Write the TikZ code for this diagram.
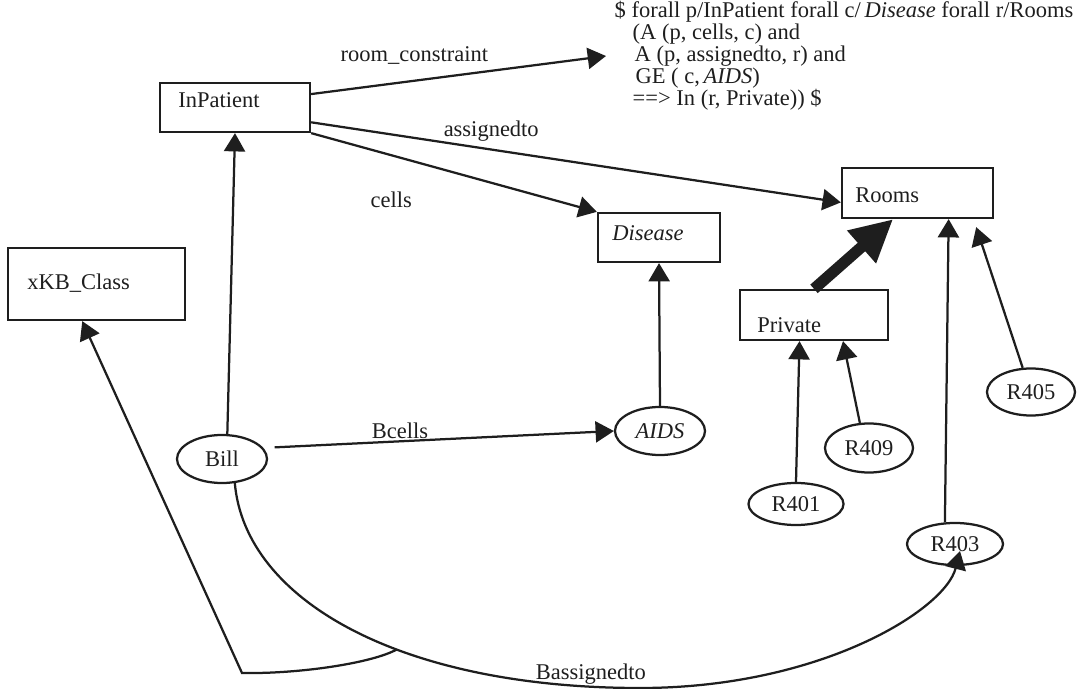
\documentclass[tikz,border=0pt]{standalone}
\usepackage{fontspec}
\setmainfont{Liberation Serif}
\usepackage{tikz}
\usetikzlibrary{arrows.meta,shapes.geometric}
\definecolor{scanInk}{HTML}{1E1E1E}
\newcommand{\handword}[1]{\textit{#1}}
\tikzset{
  classbox/.style={rectangle, draw=scanInk, line width=1.6pt, inner sep=0pt},
  classname/.style={anchor=west, inner sep=0pt, text=scanInk},
  instnode/.style={ellipse, draw=scanInk, line width=1.6pt, inner sep=0pt, text=scanInk},
  linkarrow/.style={-{Triangle[length=13pt,width=15pt]}, line width=1.6pt, draw=scanInk},
  isaarrow/.style={-{Triangle[length=30pt,width=29pt]}, line width=8pt, draw=scanInk},
  linklabel/.style={inner sep=0pt, text=scanInk},
}

\begin{document}
\begin{tikzpicture}[x=0.025cm,y=-0.025cm,font=\fontsize{16}{14.2}\selectfont]
  \useasboundingbox (0,0) rectangle (1081,689);

  % --- classes ---
  \node[classbox, minimum width=3.75cm, minimum height=1.225cm] (inpat) at (235,107.5) {};
  \node[classbox, minimum width=3.05cm, minimum height=1.225cm] (disease) at (659,237.5) {};
  \node[classbox, minimum width=3.775cm, minimum height=1.25cm] (rooms) at (917.5,193) {};
  \node[classbox, minimum width=4.425cm, minimum height=1.8cm] (xkb) at (96.5,284) {};
  \node[classbox, minimum width=3.7cm, minimum height=1.25cm] (private) at (814,315) {};

  \node[classname] (inpatname) at (178,100) {InPatient};
  \node[classname] (diseasename) at (612,233) {\handword{Disease}};
  \node[classname] (roomsname) at (855,195) {Rooms};
  \node[classname] (xkbname) at (27,283) {xKB\_Class};
  \node[classname] (privatename) at (757,325) {Private};

  % --- instances ---
  \node[instnode, minimum width=2.25cm, minimum height=1.2cm] (bill) at (222,459) {Bill};
  \node[instnode, minimum width=2.25cm, minimum height=1.2cm] (aids) at (660,431) {\handword{AIDS}};
  \node[instnode, minimum width=2.2cm, minimum height=1.175cm] (r405) at (1031,392) {R405};
  \node[instnode, minimum width=2.2cm, minimum height=1.225cm] (r409) at (869,448) {R409};
  \node[instnode, minimum width=2.375cm, minimum height=1.05cm] (r401) at (796,504) {R401};
  \node[instnode, minimum width=2.4cm, minimum height=1.05cm] (r403) at (955,544) {R403};

  % --- constraint text ---
  \node[anchor=west, align=left, inner xsep=6pt, inner ysep=0pt, text=scanInk] (rule) at (606,56)
    {\$ forall p/InPatient forall c/\,\handword{Disease} forall r/Rooms\\
     \hspace*{0.45cm}(A (p, cells, c) and\\
     \hspace*{0.5cm}A (p, assignedto, r) and\\
     \hspace*{0.52cm}GE ( c,\,\handword{AIDS})\\
     \hspace*{0.45cm}==> In (r, Private)) \$};

  % --- links ---
  \draw[linkarrow] (inpat.10) -- node[linklabel, pos=0.35, above=11pt] (roomlbl) {room\_constraint} (rule.west);
  \draw[linkarrow] (inpat.-11) -- node[linklabel, pos=0.34, above=5pt] (assignlbl) {assignedto} (rooms.187);
  \draw[linkarrow] (inpat.south east) -- node[linklabel, pos=0.28, below=25pt] (cellslbl) {cells} (disease.north west);
  \draw[linkarrow] (bill.78) -- (inpat.south);
  \draw[linkarrow, shorten <=8pt] (bill.15) -- node[linklabel, pos=0.39, above=1pt] (bcellslbl) {Bcells} (aids.west);
  \draw[linkarrow] (aids.north) -- (disease.south);
  \draw[isaarrow] (private.north) -- (rooms.-133);
  \draw[linkarrow] (r401.north) -- (private.-119);
  \draw[linkarrow] (r409.110) -- (private.-42);
  \draw[linkarrow] (r403.115) -- (rooms.-40);
  \draw[linkarrow, shorten >=6pt] (r405.109) -- (rooms.-25);

  % --- Bassignedto and its class link ---
  \coordinate (r403tip) at (960,551);
  \coordinate (kbcorner) at (242,673);
  \draw[linkarrow] (bill.-62) .. controls (245,600) and (400,688) .. coordinate[pos=0.6] (bmid)
    node[linklabel, pos=0.93, above=1pt] (bassignlbl) {Bassignedto} (640,688)
    .. controls (820,688) and (945,610) .. (r403tip);
  \draw[linkarrow] (bmid) .. controls (372,663) and (300,674) .. (kbcorner) -- (xkb.-111);
\end{tikzpicture}
\end{document}
